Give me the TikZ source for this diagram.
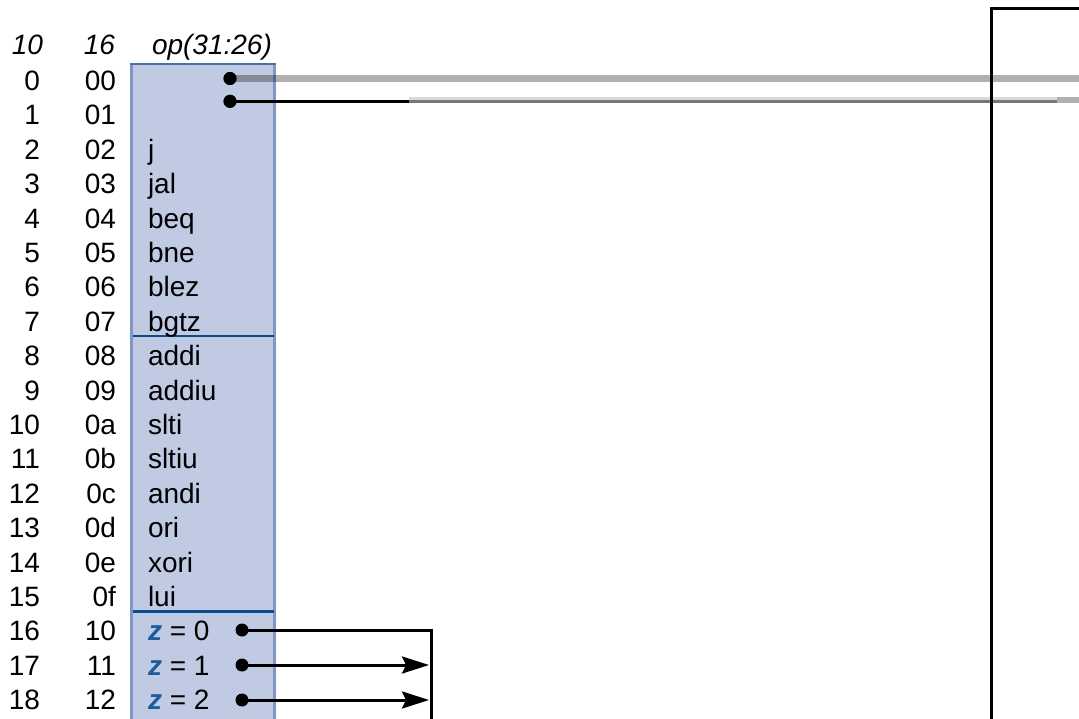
\documentclass[tikz,border=0pt]{standalone}
\usepackage{fontspec}
\setmainfont{Liberation Sans}
\usetikzlibrary{arrows.meta}
\definecolor{boxfill}{HTML}{C0CBE3}
\definecolor{boxedge}{HTML}{7F97C2}
\definecolor{boxtop}{HTML}{4C6FA6}
\definecolor{sepblue}{HTML}{0B4E8E}
\definecolor{zblue}{HTML}{1B5C9E}
\definecolor{midgray}{HTML}{777777}
\definecolor{palegray}{HTML}{D9D9D9}
\definecolor{bandgray}{HTML}{B0B0B0}
\newcommand\zv{\textcolor{zblue}{\bfseries\itshape z}}
\begin{document}
\begin{tikzpicture}[x=1pt,y=-1pt,
  lbl/.style={font=\fontsize{28}{34}\selectfont, inner sep=0pt, outer sep=0pt},
  hdr/.style={font=\fontsize{28}{34}\selectfont\itshape, inner sep=0pt, outer sep=0pt},
  dot/.style={circle, fill=black, inner sep=0pt, minimum size=13pt},
  wire/.style={line width=3pt, black},
  sep/.style={line width=2.3pt, sepblue},
  arr/.style={wire, -{Stealth[length=27pt,width=17pt,inset=4pt]}}]
\useasboundingbox (0,0) rectangle (1079,719);
% opcode box
\fill[boxfill] (131,64) rectangle (275,725);
\draw[boxedge, line width=3pt] (131.5,64) -- (131.5,725);
\draw[boxedge, line width=3pt] (274.5,64) -- (274.5,725);
\draw[boxtop, line width=2.5pt] (130,64.2) -- (276,64.2);
\draw[sep] (133,336) -- (274,336);
\draw[sep] (133,611.5) -- (274,611.5);
% headers
\node[hdr, anchor=base east] (hdec) at (43,55) {10};
\node[hdr, anchor=base east] (hhex) at (115,55) {16};
\node[hdr, anchor=base west] (hop) at (152,55) {op(31:26)};
% rows
\foreach \d/\h/\o [count=\i from 0] in {0/00/, 1/01/, 2/02/j, 3/03/jal, 4/04/beq, 5/05/bne, 6/06/blez, 7/07/bgtz, 8/08/addi, 9/09/addiu, 10/0a/slti, 11/0b/sltiu, 12/0c/andi, 13/0d/ori, 14/0e/xori, 15/0f/lui, 16/10/\zv{} = 0, 17/11/\zv{} = 1, 18/12/\zv{} = 2} {
  \pgfmathsetmacro\yy{90.5+34.4*\i}
  \node[lbl, anchor=base east] (dec\i) at (40,\yy) {\d};
  \node[lbl, anchor=base east] (hex\i) at (116,\yy) {\h};
  \node[lbl, anchor=base west] (op\i) at (148,\yy) {\o};
}
% dots
\node[dot] (p0) at (230,78.5) {};
\node[dot] (p1) at (230,101.3) {};
\node[dot] (z0) at (242,630) {};
\node[dot] (z1) at (242,665) {};
\node[dot] (z2) at (242,700) {};
% connector coordinates
\coordinate (e0) at (1079,78.5);
\coordinate (k1) at (409,101.3);
\coordinate (k2) at (1057,101.3);
\coordinate (e1) at (1079,100);
\coordinate (k2b) at (1057,100);
\coordinate (zc) at (431.7,630);
\coordinate (zb) at (431.7,725);
\coordinate (a1) at (429,665);
\coordinate (a2) at (429,700);
\coordinate (t0) at (991,8.3);
\coordinate (t1) at (991,725);
\coordinate (t2) at (1085,8.3);
% top wires
\draw[line width=6.5pt, black, opacity=0.31] (p0.center) -- (e0);
\draw[line width=2.8pt, black] (p1.center) -- (k1);
\draw[line width=2.5pt, palegray] ([yshift=2.8pt]k1) -- ([yshift=2.8pt]k2);
\draw[line width=3pt, midgray] (k1) -- (k2);
\draw[line width=6pt, bandgray] (k2b) -- (e1);
\node[dot] at (p0) {};
\node[dot] at (p1) {};
% bottom wires
\draw[wire] (z0.center) -- (zc) -- (zb);
\draw[arr] (z1.center) -- (a1);
\draw[arr] (z2.center) -- (a2);
% right frame
\draw[wire] (t1) -- (t0) -- (t2);
\end{tikzpicture}
\end{document}
